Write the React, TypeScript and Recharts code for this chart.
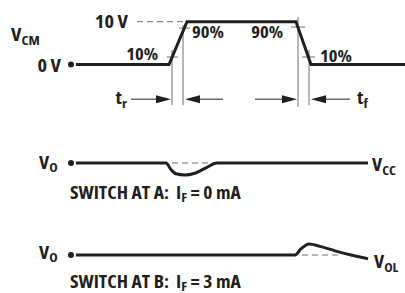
import React from 'react';
import { ComposedChart, Line, XAxis, YAxis, ReferenceLine, ReferenceDot } from 'recharts';

const W = 405;
const H = 293;
const INK = '#231f20';
const GREY = '#6d6e71';
const FONT = "'Open Sans', sans-serif";
const STRETCH = 1.13;

// ---- waveforms (t = time in arbitrary units) ----
const vcmT = [71, 169, 187, 296, 311, 405];
const vcmV = [0, 0, 10, 10, 0, 0]; // volts

const outAT = [71, 166, 171, 176, 185, 194, 205, 217, 368];
const outAV = [0, 0, -0.55, -0.9, -1, -0.88, -0.45, 0, 0];

const outBT = [71, 295, 301, 309, 320, 335, 350, 368];
const outBV = [0, 0, 0.55, 1, 0.78, 0.38, 0.02, -0.34];

const zip = (ts: number[], vs: number[]) => ts.map((t, i) => ({ t, v: vs[i] }));
const vcmData = zip(vcmT, vcmV);
const outAData = zip(outAT, outAV);
const outBData = zip(outBT, outBV);

// ---- annotations ----
type Axis = 'vcm' | 'a' | 'b';
const dashed: { axis: Axis; t1: number; t2: number; v: number }[] = [
  { axis: 'vcm', t1: 137, t2: 185, v: 10 },
  { axis: 'a', t1: 172, t2: 213, v: 0 },
  { axis: 'b', t1: 302, t2: 340, v: 0 },
];
const markers = [
  { t: 172, v1: 3.4, v2: -9.5 },
  { t: 183, v1: 9.2, v2: -9.5 },
  { t: 298, v1: 11.1, v2: -9.9 },
  { t: 309, v1: 3.4, v2: -9.5 },
];
const ticks = [
  { t1: 167, t2: 178, v: 1.75 },
  { t1: 179, t2: 190, v: 8.5 },
  { t1: 291, t2: 305, v: 8.76 },
  { t1: 302, t2: 315, v: 1.75 },
];
const arrowLevel = -8.1;
const arrows = [
  { from: 131, to: 171 },
  { from: 223, to: 185 },
  { from: 255, to: 297 },
  { from: 350, to: 311 },
];

type Part = { s: string; sub?: boolean };
type Lbl = { axis: Axis; t: number; v: number; parts: Part[]; anchor: 'start' | 'end'; size: number };
const labels: Lbl[] = [
  { axis: 'vcm', t: 128, v: 10.1, parts: [{ s: '10 V' }], anchor: 'end', size: 18 },
  { axis: 'vcm', t: 61, v: -0.3, parts: [{ s: '0 V' }], anchor: 'end', size: 18 },
  { axis: 'vcm', t: 11, v: 6.9, parts: [{ s: 'V' }, { s: 'CM', sub: true }], anchor: 'start', size: 18 },
  { axis: 'vcm', t: 158, v: 2.45, parts: [{ s: '10%' }], anchor: 'end', size: 16.5 },
  { axis: 'vcm', t: 192, v: 7.6, parts: [{ s: '90%' }], anchor: 'start', size: 16.5 },
  { axis: 'vcm', t: 283, v: 7.6, parts: [{ s: '90%' }], anchor: 'end', size: 16.5 },
  { axis: 'vcm', t: 320, v: 2.0, parts: [{ s: '10%' }], anchor: 'start', size: 16.5 },
  { axis: 'vcm', t: 127, v: -7.8, parts: [{ s: 't' }, { s: 'r', sub: true }], anchor: 'end', size: 18 },
  { axis: 'vcm', t: 357, v: -7.8, parts: [{ s: 't' }, { s: 'f', sub: true }], anchor: 'start', size: 18 },
  { axis: 'a', t: 39, v: 0.04, parts: [{ s: 'V' }, { s: 'O', sub: true }], anchor: 'start', size: 17.5 },
  { axis: 'a', t: 372, v: -0.17, parts: [{ s: 'V' }, { s: 'CC', sub: true }], anchor: 'start', size: 17.5 },
  { axis: 'a', t: 70, v: -2.46, parts: [{ s: 'SWITCH AT A:  I' }, { s: 'F', sub: true }, { s: ' = 0 mA' }], anchor: 'start', size: 17.3 },
  { axis: 'b', t: 39, v: 0.23, parts: [{ s: 'V' }, { s: 'O', sub: true }], anchor: 'start', size: 17.5 },
  { axis: 'b', t: 374, v: -0.64, parts: [{ s: 'V' }, { s: 'OL', sub: true }], anchor: 'start', size: 17.5 },
  { axis: 'b', t: 70, v: -2.42, parts: [{ s: 'SWITCH AT B:  I' }, { s: 'F', sub: true }, { s: ' = 3 mA' }], anchor: 'start', size: 17.3 },
];

// vertical layout of each trace: pixel row of its zero level and pixels per unit
const layout: Record<Axis, { zero: number; ppu: number }> = {
  vcm: { zero: 64.5, ppu: 4.28 },
  a: { zero: 163, ppu: 12 },
  b: { zero: 255, ppu: 11 },
};
const domainFor = (a: Axis): [number, number] => [
  (layout[a].zero - H) / layout[a].ppu,
  layout[a].zero / layout[a].ppu,
];

const LabelShape = (lbl: Lbl) => (p: any) => {
  const { cx, cy } = p;
  const sz = lbl.size;
  const subShift = sz * 0.18;
  let shifted = false;
  return (
    <text
      transform={`translate(${cx},${cy + sz * 0.36}) scale(${STRETCH},1)`}
      x={0}
      y={0}
      textAnchor={lbl.anchor}
      fontFamily={FONT}
      fontWeight="bold"
      fontSize={sz}
      fill={INK}
      style={{ whiteSpace: 'pre', fontStretch: 'condensed' }}
    >
      {lbl.parts.map((part, i) => {
        if (part.sub) {
          shifted = true;
          return (
            <tspan key={i} fontSize={sz * 0.72} dy={subShift}>
              {part.s}
            </tspan>
          );
        }
        const dy = shifted ? -subShift : undefined;
        shifted = false;
        return (
          <tspan key={i} dy={dy}>
            {part.s}
          </tspan>
        );
      })}
    </text>
  );
};

const ArrowShape = (p: any) => {
  const { x1, y1, x2, y2 } = p;
  const dir = x2 > x1 ? 1 : -1;
  const len = 15;
  const half = 4;
  const bx = x2 - dir * len;
  return (
    <g>
      <line x1={x1} y1={y1} x2={bx} y2={y2} stroke={INK} strokeWidth={1} />
      <polygon points={`${x2},${y2} ${bx},${y2 - half} ${bx},${y2 + half}`} fill={INK} />
    </g>
  );
};

export default function App() {
  return (
    <div style={{ position: 'absolute', left: 0, top: 0, width: W, height: H, background: '#fff' }}>
      <ComposedChart width={W} height={H} margin={{ top: 0, right: 0, bottom: 0, left: 0 }}>
        <XAxis type="number" dataKey="t" domain={[0, W]} hide allowDataOverflow />
        <YAxis yAxisId="vcm" type="number" domain={domainFor('vcm')} hide allowDataOverflow />
        <YAxis yAxisId="a" type="number" domain={domainFor('a')} hide allowDataOverflow />
        <YAxis yAxisId="b" type="number" domain={domainFor('b')} hide allowDataOverflow />

        {dashed.map((d, i) => (
          <ReferenceLine
            key={`d${i}`}
            yAxisId={d.axis}
            segment={[{ x: d.t1, y: d.v }, { x: d.t2, y: d.v }]}
            stroke={GREY}
            strokeWidth={1}
            strokeDasharray="6 4"
          />
        ))}
        {markers.map((m, i) => (
          <ReferenceLine
            key={`m${i}`}
            yAxisId="vcm"
            segment={[{ x: m.t, y: m.v1 }, { x: m.t, y: m.v2 }]}
            stroke={GREY}
            strokeWidth={1}
          />
        ))}
        {ticks.map((k, i) => (
          <ReferenceLine
            key={`k${i}`}
            yAxisId="vcm"
            segment={[{ x: k.t1, y: k.v }, { x: k.t2, y: k.v }]}
            stroke={GREY}
            strokeWidth={1}
          />
        ))}
        {arrows.map((a, i) => (
          <ReferenceLine
            key={`a${i}`}
            yAxisId="vcm"
            segment={[{ x: a.from, y: arrowLevel }, { x: a.to, y: arrowLevel }]}
            shape={ArrowShape}
          />
        ))}

        <Line yAxisId="vcm" data={vcmData} dataKey="v" type="linear" stroke={INK} strokeWidth={3} dot={false} isAnimationActive={false} strokeLinejoin="miter" />
        <Line yAxisId="a" data={outAData} dataKey="v" type="monotone" stroke={INK} strokeWidth={3} dot={false} isAnimationActive={false} />
        <Line yAxisId="b" data={outBData} dataKey="v" type="monotone" stroke={INK} strokeWidth={3} dot={false} isAnimationActive={false} />

        {labels.map((l, i) => (
          <ReferenceDot key={`l${i}`} yAxisId={l.axis} x={l.t} y={l.v} r={0} shape={LabelShape(l)} />
        ))}
      </ComposedChart>
    </div>
  );
}
